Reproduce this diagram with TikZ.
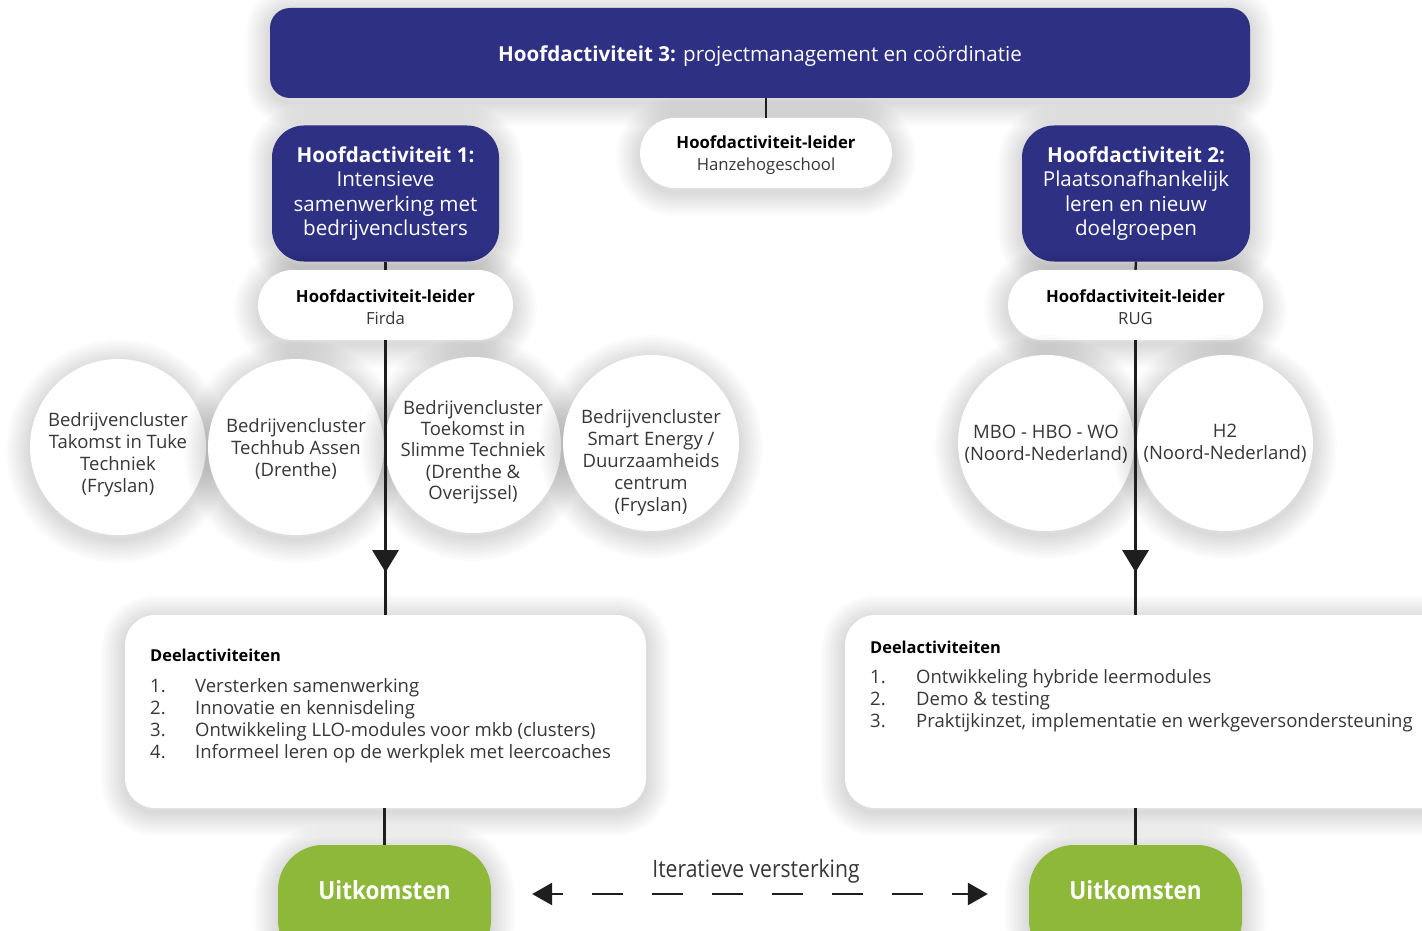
\documentclass[tikz,border=0pt]{standalone}
\usepackage{fontspec}
\setmainfont{Open Sans}
\newfontfamily\condfont[FakeStretch=0.9]{Open Sans}
\newfontfamily\itfont[FakeStretch=0.88]{Open Sans}
\newcommand{\deelheadfont}{\bfseries\fontsize{16.4}{22}\selectfont}
\usetikzlibrary{arrows.meta,decorations.markings}
\definecolor{navy}{RGB}{46,48,132}
\definecolor{lgreen}{RGB}{141,184,57}
\definecolor{txt}{RGB}{55,55,55}
\definecolor{lin}{RGB}{30,30,30}
\tikzset{
  sh/.style={preaction={draw=black, draw opacity=0.011, line width=#1, transform canvas={yshift=-4pt}}},
  softshadow/.style={sh=4pt, sh=8pt, sh=12pt, sh=16pt, sh=20pt, sh=24pt, sh=28pt, sh=32pt, sh=36pt, sh=40pt, sh=44pt, sh=48pt},
  bluebox/.style={fill=navy, text=white, rounded corners=32pt, align=center, inner sep=0pt, softshadow, font=\fontsize{20.6}{24.5}\selectfont},
  pill/.style={fill=white, rounded corners=35pt, minimum width=255pt, minimum height=70pt, inner sep=0pt, softshadow},
  pilltext/.style={yshift=-2pt, align=center, inner sep=0pt, text=txt, font=\fontsize{16.7}{22}\selectfont},
  circ/.style={circle, fill=white, minimum size=176pt, inner sep=0pt, softshadow},
  circtext/.style={align=center, inner sep=0pt, text=txt, font=\fontsize{18.5}{22}\selectfont},
  deelbox/.style={fill=white, rounded corners=30pt, minimum height=193pt, inner sep=0pt, softshadow},
  deeltext/.style={anchor=north west, inner sep=0pt, text=txt, font=\fontsize{18.5}{22}\selectfont},
  uitbox/.style={fill=lgreen, rounded corners=45pt, minimum width=213pt, minimum height=120pt, inner sep=0pt, softshadow},
  uittext/.style={yshift=15pt, text=white, font=\condfont\bfseries\fontsize{25}{28}\selectfont},
  conn/.style={draw=lin, line width=2.4pt},
  midarrow/.style={postaction={decorate}, decoration={markings, mark=at position #1 with {\arrow{Triangle[width=26pt,length=22pt]}}}},
}
\begin{document}
\begin{tikzpicture}[x=1pt,y=-1pt]
\useasboundingbox (0,0) rectangle (1422,931);
\clip (0,0) rectangle (1422,931);
\fill[white] (0,0) rectangle (1422,931);

% top bar
\node[bluebox, rounded corners=20pt, minimum width=980pt, minimum height=90pt, text height=18pt, text depth=0pt] (top) at (760,53)
  {\textbf{Hoofdactiviteit 3:} projectmanagement en coördinatie};
\node[pill, minimum width=252pt, label={[pilltext]center:\textbf{\color{black}Hoofdactiviteit-leider}\\Hanzehogeschool}] (hanze) at (766,153) {};

% main activity boxes
\node[bluebox, minimum width=227pt, minimum height=136pt] (ha1) at (385.5,193.5)
  {\textbf{Hoofdactiviteit 1:}\\Intensieve\\samenwerking met\\bedrijvenclusters};
\node[bluebox, minimum width=228pt, minimum height=136pt] (ha2) at (1136,193.5)
  {\textbf{Hoofdactiviteit 2:}\\Plaatsonafhankelijk\\leren en nieuw\\doelgroepen};

\node[pill, label={[pilltext]center:\textbf{\color{black}Hoofdactiviteit-leider}\\Firda}] (firda) at (385.5,305) {};
\node[pill, label={[pilltext]center:\textbf{\color{black}Hoofdactiviteit-leider}\\RUG}] (rug) at (1135.5,305) {};

% circles
\node[circ, label={[circtext, yshift=-8pt]center:Bedrijvencluster\\Takomst in Tuke\\Techniek\\(Fryslan)}] (c1) at (118,447) {};
\node[circ, label={[circtext, yshift=-2pt]center:Bedrijvencluster\\Techhub Assen\\(Drenthe)}] (c2) at (296,447) {};
\node[circ, label={[circtext, yshift=-7pt, font=\fontsize{18.5}{21.2}\selectfont]center:Bedrijvencluster\\Toekomst in\\Slimme Techniek\\(Drenthe \&\\Overijssel)}] (c3) at (473,445) {};
\node[circ, label={[circtext, yshift=-20pt]center:Bedrijvencluster\\Smart Energy /\\Duurzaamheids\\centrum\\(Fryslan)}] (c4) at (651,443) {};
\node[circ, label={[circtext, yshift=-1pt]center:MBO - HBO - WO\\(Noord-Nederland)}] (c5) at (1046,443) {};
\node[circ, label={[circtext]center:H2\\(Noord-Nederland)}] (c6) at (1225,443) {};

% sub-activity boxes
\node[deelbox, minimum width=521pt] (deelL) at (385.5,711.5) {};
\node[deeltext] (deelLt) at (150,646) {\begin{tabular}{@{}p{45pt}@{}l@{}}
\multicolumn{2}{@{}l@{}}{\deelheadfont\color{black}Deelactiviteiten}\\[9pt]
1. & Versterken samenwerking\\
2. & Innovatie en kennisdeling\\
3. & Ontwikkeling LLO-modules voor mkb (clusters)\\
4. & Informeel leren op de werkplek met leercoaches
\end{tabular}};
\node[deelbox, minimum width=625pt] (deelR) at (1157.5,711.5) {};
\node[deeltext] (deelRt) at (870,638) {\begin{tabular}{@{}p{46pt}@{}l@{}}
\multicolumn{2}{@{}l@{}}{\deelheadfont\color{black}Deelactiviteiten}\\[8pt]
1. & Ontwikkeling hybride leermodules\\
2. & Demo \& testing\\
3. & Praktijkinzet, implementatie en werkgeversondersteuning
\end{tabular}};

% outcomes
\node[uitbox, label={[uittext]center:Uitkomsten}] (uitL) at (384.5,905) {};
\node[uitbox, label={[uittext]center:Uitkomsten}] (uitR) at (1135.5,905) {};

% connectors
\draw[conn] (hanze.north |- top.south) -- (hanze.north);
\draw[conn] (ha1.south) -- (firda.north);
\draw[conn] (ha2.south) -- (rug.north);
\draw[conn, midarrow=0.845] (firda.south) -- (firda.south |- deelL.north);
\draw[conn, midarrow=0.845] (rug.south) -- (rug.south |- deelR.north);
\draw[conn] (deelL.south -| uitL.north) -- (uitL.north);
\draw[conn] (rug.south |- deelR.south) -- (uitR.north);

\draw[draw=lin, line width=2.6pt, dash pattern=on 31pt off 29pt, dash phase=20pt,
  {Triangle[width=22pt,length=20pt]}-{Triangle[width=22pt,length=20pt]},
  shorten <=41pt, shorten >=41pt]
  ([yshift=11pt]uitL.east) -- node[above=6pt, xshift=-4pt, text=txt, font=\itfont\fontsize{24}{26}\selectfont] (iter) {Iteratieve versterking} ([yshift=11pt]uitR.west);
\end{tikzpicture}
\end{document}
